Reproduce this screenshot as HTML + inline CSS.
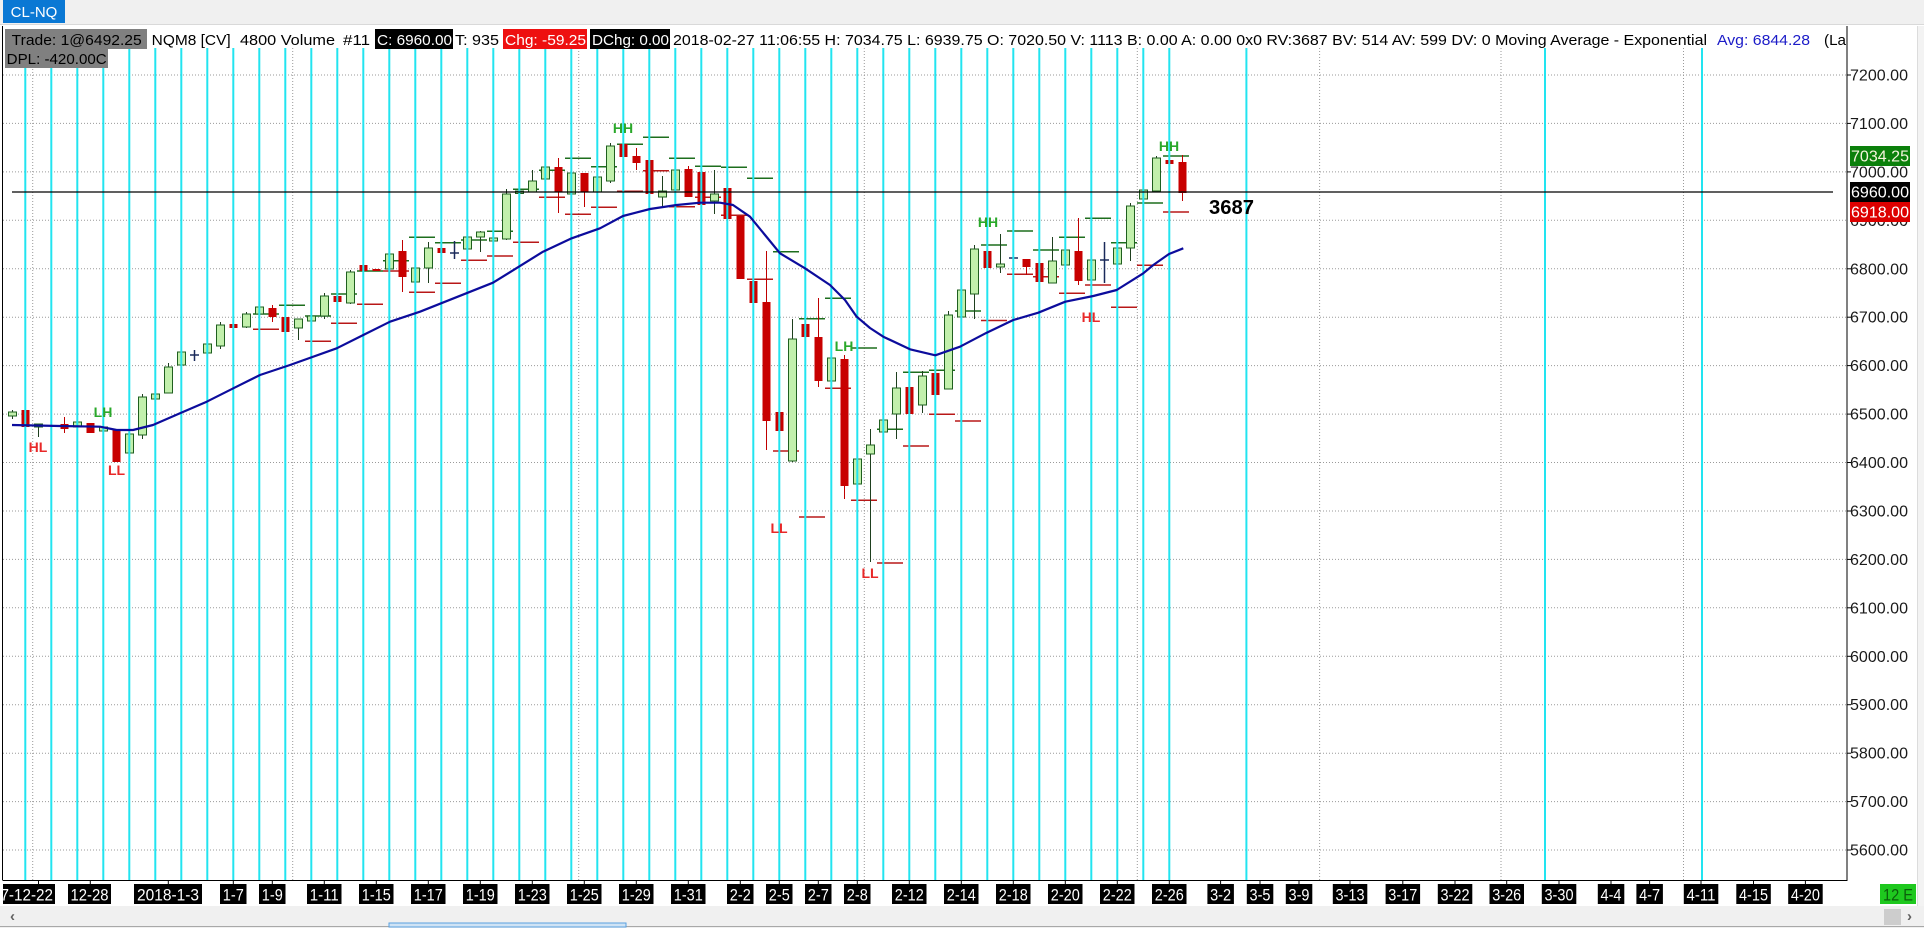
<!DOCTYPE html>
<html><head><meta charset="utf-8">
<style>
html,body{margin:0;padding:0;width:1924px;height:928px;overflow:hidden;background:#fff;}
svg{display:block;font-family:"Liberation Sans",Arial,sans-serif;}
</style></head><body>
<svg width="1924" height="928" viewBox="0 0 1924 928" xmlns="http://www.w3.org/2000/svg">
<defs>
<clipPath id="plotclip"><rect x="3" y="26" width="1844" height="900"/></clipPath>
<clipPath id="hdrclip"><rect x="0" y="26" width="1846" height="40"/></clipPath>
</defs>
<rect x="0" y="0" width="1924" height="928" fill="#fff"/>
<!-- top bar -->
<rect x="0" y="0" width="1924" height="24" fill="#f0f0f0"/>
<line x1="0" y1="24.5" x2="1924" y2="24.5" stroke="#d9d9d9"/>
<rect x="3" y="0" width="62" height="23" fill="#0a78d4"/>
<text x="34" y="17" fill="#fff" font-size="15" text-anchor="middle">CL-NQ</text>

<!-- horizontal grid -->
<g stroke="#9a9a9a" stroke-width="1" stroke-dasharray="1,2">
<line x1="3" y1="75" x2="1847" y2="75"/>
<line x1="3" y1="123.4" x2="1847" y2="123.4"/>
<line x1="3" y1="171.9" x2="1847" y2="171.9"/>
<line x1="3" y1="220.3" x2="1847" y2="220.3"/>
<line x1="3" y1="268.8" x2="1847" y2="268.8"/>
<line x1="3" y1="317.2" x2="1847" y2="317.2"/>
<line x1="3" y1="365.6" x2="1847" y2="365.6"/>
<line x1="3" y1="414.1" x2="1847" y2="414.1"/>
<line x1="3" y1="462.5" x2="1847" y2="462.5"/>
<line x1="3" y1="511" x2="1847" y2="511"/>
<line x1="3" y1="559.4" x2="1847" y2="559.4"/>
<line x1="3" y1="607.8" x2="1847" y2="607.8"/>
<line x1="3" y1="656.3" x2="1847" y2="656.3"/>
<line x1="3" y1="704.7" x2="1847" y2="704.7"/>
<line x1="3" y1="753.2" x2="1847" y2="753.2"/>
<line x1="3" y1="801.6" x2="1847" y2="801.6"/>
<line x1="3" y1="850" x2="1847" y2="850"/>
<line x1="32.7" y1="48" x2="32.7" y2="880"/>
<line x1="292.7" y1="48" x2="292.7" y2="880"/>
<line x1="578.7" y1="48" x2="578.7" y2="880"/>
<line x1="864.3" y1="48" x2="864.3" y2="880"/>
<line x1="1137.3" y1="48" x2="1137.3" y2="880"/>
<line x1="1319.6" y1="48" x2="1319.6" y2="880"/>
<line x1="1501" y1="48" x2="1501" y2="880"/>
<line x1="1683.5" y1="48" x2="1683.5" y2="880"/>
</g>

<!-- level markers -->
<g stroke="#1d6e1d" stroke-width="1.5">
<line x1="279" y1="305.3" x2="305" y2="305.3"/><line x1="253" y1="314" x2="279" y2="314"/>
<line x1="305" y1="316" x2="331" y2="316"/><line x1="331" y1="294" x2="357" y2="294"/>
<line x1="357" y1="271" x2="383" y2="271"/><line x1="383" y1="260.7" x2="409" y2="260.7"/>
<line x1="409" y1="237.3" x2="435" y2="237.3"/><line x1="435" y1="242.7" x2="461" y2="242.7"/>
<line x1="461" y1="240" x2="487" y2="240"/><line x1="487" y1="231.3" x2="513" y2="231.3"/>
<line x1="513" y1="189.3" x2="539" y2="189.3"/><line x1="539" y1="170.3" x2="565" y2="170.3"/>
<line x1="565" y1="158.3" x2="591" y2="158.3"/><line x1="591" y1="166.7" x2="617" y2="166.7"/>
<line x1="617" y1="144.3" x2="643" y2="144.3"/><line x1="643" y1="137.3" x2="669" y2="137.3"/>
<line x1="669" y1="158.3" x2="695" y2="158.3"/><line x1="695" y1="166.3" x2="721" y2="166.3"/>
<line x1="721" y1="167.3" x2="747" y2="167.3"/><line x1="747" y1="178.3" x2="773" y2="178.3"/>
<line x1="773" y1="251.7" x2="799" y2="251.7"/><line x1="799" y1="318.7" x2="825" y2="318.7"/>
<line x1="825" y1="298.3" x2="851" y2="298.3"/><line x1="851" y1="348" x2="877" y2="348"/>
<line x1="877" y1="429.3" x2="903" y2="429.3"/><line x1="903" y1="372.3" x2="929" y2="372.3"/>
<line x1="929" y1="370.3" x2="955" y2="370.3"/><line x1="955" y1="311" x2="981" y2="311"/>
<line x1="981" y1="245" x2="1007" y2="245"/><line x1="1007" y1="231" x2="1033" y2="231"/>
<line x1="1033" y1="250" x2="1059" y2="250"/><line x1="1059" y1="237.3" x2="1085" y2="237.3"/>
<line x1="1085" y1="218.3" x2="1111" y2="218.3"/><line x1="1111" y1="242.7" x2="1137" y2="242.7"/>
<line x1="1137" y1="203" x2="1163" y2="203"/><line x1="1163" y1="156" x2="1189" y2="156"/>
</g>
<g stroke="#b81818" stroke-width="1.5">
<line x1="253" y1="329.3" x2="279" y2="329.3"/><line x1="305" y1="341.3" x2="331" y2="341.3"/>
<line x1="331" y1="323.3" x2="357" y2="323.3"/><line x1="357" y1="304.3" x2="383" y2="304.3"/>
<line x1="383" y1="271" x2="409" y2="271"/><line x1="409" y1="292.3" x2="435" y2="292.3"/>
<line x1="435" y1="283.3" x2="461" y2="283.3"/><line x1="461" y1="260.3" x2="487" y2="260.3"/>
<line x1="487" y1="256" x2="513" y2="256"/><line x1="513" y1="242.3" x2="539" y2="242.3"/>
<line x1="539" y1="197.3" x2="565" y2="197.3"/><line x1="565" y1="214.3" x2="591" y2="214.3"/>
<line x1="591" y1="207.3" x2="617" y2="207.3"/><line x1="617" y1="191.3" x2="643" y2="191.3"/>
<line x1="643" y1="170.7" x2="669" y2="170.7"/><line x1="669" y1="206.7" x2="695" y2="206.7"/>
<line x1="695" y1="197.3" x2="721" y2="197.3"/><line x1="721" y1="215.3" x2="747" y2="215.3"/>
<line x1="747" y1="279.3" x2="773" y2="279.3"/><line x1="773" y1="451" x2="799" y2="451"/>
<line x1="799" y1="517" x2="825" y2="517"/><line x1="825" y1="388.3" x2="851" y2="388.3"/>
<line x1="851" y1="500.3" x2="877" y2="500.3"/><line x1="877" y1="563" x2="903" y2="563"/>
<line x1="903" y1="446" x2="929" y2="446"/><line x1="929" y1="414.3" x2="955" y2="414.3"/>
<line x1="955" y1="421" x2="981" y2="421"/><line x1="981" y1="320.5" x2="1007" y2="320.5"/>
<line x1="1007" y1="274.3" x2="1033" y2="274.3"/><line x1="1033" y1="276.7" x2="1059" y2="276.7"/>
<line x1="1059" y1="293.3" x2="1085" y2="293.3"/><line x1="1085" y1="285" x2="1111" y2="285"/>
<line x1="1111" y1="307.3" x2="1137" y2="307.3"/><line x1="1137" y1="265.3" x2="1163" y2="265.3"/>
<line x1="1163" y1="212" x2="1189" y2="212"/>
</g>

<!-- wicks green -->
<g stroke="#1e3f1e" stroke-width="1">
<line x1="12.5" y1="410" x2="12.5" y2="419"/><line x1="38.5" y1="424" x2="38.5" y2="437"/>
<line x1="77.5" y1="420" x2="77.5" y2="428"/><line x1="103.5" y1="425" x2="103.5" y2="433"/>
<line x1="129.5" y1="432" x2="129.5" y2="453"/><line x1="142.5" y1="394" x2="142.5" y2="439"/>
<line x1="155.5" y1="392" x2="155.5" y2="400"/><line x1="168.5" y1="363" x2="168.5" y2="393"/>
<line x1="181.5" y1="350" x2="181.5" y2="366"/><line x1="207.5" y1="342" x2="207.5" y2="354"/>
<line x1="220.5" y1="322" x2="220.5" y2="349"/><line x1="246.5" y1="312" x2="246.5" y2="328"/>
<line x1="259.5" y1="305" x2="259.5" y2="315"/><line x1="298.5" y1="319" x2="298.5" y2="340"/>
<line x1="311.5" y1="314" x2="311.5" y2="322"/><line x1="324.5" y1="293" x2="324.5" y2="319"/>
<line x1="350.5" y1="270" x2="350.5" y2="304"/><line x1="389.5" y1="252" x2="389.5" y2="270"/>
<line x1="415.5" y1="266" x2="415.5" y2="283"/><line x1="428.5" y1="242" x2="428.5" y2="283"/>
<line x1="467.5" y1="235" x2="467.5" y2="250"/><line x1="480.5" y1="231" x2="480.5" y2="252"/>
<line x1="493.5" y1="237" x2="493.5" y2="242"/><line x1="506.5" y1="189" x2="506.5" y2="240"/>
<line x1="519.5" y1="190" x2="519.5" y2="194"/><line x1="532.5" y1="170" x2="532.5" y2="192"/>
<line x1="545.5" y1="165" x2="545.5" y2="180"/><line x1="571.5" y1="172" x2="571.5" y2="195"/>
<line x1="597.5" y1="176" x2="597.5" y2="193"/><line x1="610.5" y1="143" x2="610.5" y2="183"/>
<line x1="662.5" y1="176" x2="662.5" y2="207"/><line x1="675.5" y1="169" x2="675.5" y2="191"/>
<line x1="714.5" y1="170" x2="714.5" y2="214"/><line x1="792.5" y1="319" x2="792.5" y2="462"/>
<line x1="831.5" y1="357" x2="831.5" y2="382"/><line x1="857.5" y1="458" x2="857.5" y2="485"/>
<line x1="870.5" y1="429" x2="870.5" y2="562"/><line x1="883.5" y1="419" x2="883.5" y2="433"/>
<line x1="896.5" y1="372" x2="896.5" y2="439"/><line x1="922.5" y1="371" x2="922.5" y2="413"/>
<line x1="948.5" y1="311" x2="948.5" y2="389"/><line x1="961.5" y1="289" x2="961.5" y2="318"/>
<line x1="974.5" y1="245" x2="974.5" y2="319"/><line x1="1000.5" y1="234" x2="1000.5" y2="273"/>
<line x1="1052.5" y1="237" x2="1052.5" y2="283"/><line x1="1065.5" y1="249" x2="1065.5" y2="266"/>
<line x1="1091.5" y1="259" x2="1091.5" y2="281"/><line x1="1117.5" y1="247" x2="1117.5" y2="265"/>
<line x1="1130.5" y1="203" x2="1130.5" y2="261"/><line x1="1143.5" y1="189" x2="1143.5" y2="200"/>
<line x1="1156.5" y1="156" x2="1156.5" y2="191"/>
</g>
<!-- wicks red -->
<g stroke="#c00000" stroke-width="1">
<line x1="64.5" y1="417" x2="64.5" y2="433"/><line x1="272.5" y1="305" x2="272.5" y2="322"/>
<line x1="285.5" y1="317" x2="285.5" y2="336"/><line x1="402.5" y1="240" x2="402.5" y2="292"/>
<line x1="558.5" y1="158" x2="558.5" y2="213"/><line x1="584.5" y1="173" x2="584.5" y2="207"/>
<line x1="636.5" y1="148" x2="636.5" y2="170"/><line x1="688.5" y1="166" x2="688.5" y2="197"/>
<line x1="766.5" y1="251" x2="766.5" y2="450"/><line x1="818.5" y1="298" x2="818.5" y2="387"/>
<line x1="844.5" y1="355" x2="844.5" y2="499"/><line x1="1026.5" y1="259" x2="1026.5" y2="275"/>
<line x1="1078.5" y1="218" x2="1078.5" y2="285"/><line x1="1182.5" y1="155" x2="1182.5" y2="201"/>
</g>
<!-- dojis -->
<g stroke="#1a2a5a" stroke-width="1.5">
<line x1="194.5" y1="350" x2="194.5" y2="361"/><line x1="190" y1="355" x2="199" y2="355"/>
<line x1="454.5" y1="241" x2="454.5" y2="259"/><line x1="450" y1="253" x2="459" y2="253"/>
<line x1="1009" y1="258" x2="1018" y2="258"/>
<line x1="1104.5" y1="242" x2="1104.5" y2="283"/><line x1="1100" y1="260" x2="1109" y2="260"/>
</g>
<!-- green bodies -->
<g fill="#c2f0ac" stroke="#1f5f1f" stroke-width="1">
<rect x="8.5" y="412" width="8" height="4"/><rect x="34.5" y="424" width="8" height="3"/>
<rect x="73.5" y="422" width="8" height="5"/><rect x="99.5" y="427" width="8" height="4"/>
<rect x="125.5" y="434" width="8" height="19"/><rect x="138.5" y="397" width="8" height="38"/>
<rect x="151.5" y="394" width="8" height="5"/><rect x="164.5" y="367" width="8" height="26"/>
<rect x="177.5" y="352" width="8" height="13"/><rect x="203.5" y="344" width="8" height="9"/>
<rect x="216.5" y="325" width="8" height="21"/><rect x="242.5" y="314" width="8" height="13"/>
<rect x="255.5" y="307" width="8" height="7"/><rect x="294.5" y="319" width="8" height="9"/>
<rect x="307.5" y="316" width="8" height="5"/><rect x="320.5" y="296" width="8" height="20"/>
<rect x="346.5" y="272" width="8" height="31"/><rect x="385.5" y="254" width="8" height="15"/>
<rect x="411.5" y="268" width="8" height="14"/><rect x="424.5" y="248" width="8" height="20"/>
<rect x="463.5" y="237" width="8" height="12"/><rect x="476.5" y="232" width="8" height="5"/>
<rect x="489.5" y="238" width="8" height="3"/><rect x="502.5" y="194" width="8" height="45"/>
<rect x="515.5" y="191" width="8" height="2.5"/><rect x="528.5" y="181" width="8" height="11"/>
<rect x="541.5" y="167" width="8" height="12"/><rect x="567.5" y="173" width="8" height="21"/>
<rect x="593.5" y="177" width="8" height="15"/><rect x="606.5" y="146" width="8" height="35"/>
<rect x="658.5" y="191" width="8" height="6"/><rect x="671.5" y="170" width="8" height="20"/>
<rect x="710.5" y="194" width="8" height="7"/><rect x="788.5" y="339" width="8" height="122"/>
<rect x="827.5" y="358" width="8" height="23"/><rect x="853.5" y="459" width="8" height="25"/>
<rect x="866.5" y="445" width="8" height="9"/><rect x="879.5" y="420" width="8" height="12"/>
<rect x="892.5" y="388" width="8" height="26"/><rect x="918.5" y="376" width="8" height="29"/>
<rect x="944.5" y="315" width="8" height="74"/><rect x="957.5" y="290" width="8" height="27"/>
<rect x="970.5" y="249" width="8" height="45"/><rect x="996.5" y="264" width="8" height="3"/>
<rect x="1048.5" y="261" width="8" height="22"/><rect x="1061.5" y="250" width="8" height="15"/>
<rect x="1087.5" y="260" width="8" height="20"/><rect x="1113.5" y="248" width="8" height="16"/>
<rect x="1126.5" y="206" width="8" height="42"/><rect x="1139.5" y="190" width="8" height="9"/>
<rect x="1152.5" y="158" width="8" height="33"/>
</g>
<!-- red bodies -->
<g fill="#c80000">
<rect x="21.5" y="410" width="8" height="17"/><rect x="60.5" y="424" width="8" height="5"/>
<rect x="86.5" y="423" width="8" height="10"/><rect x="112.5" y="429" width="8" height="33"/>
<rect x="229.5" y="324" width="8" height="4"/><rect x="268.5" y="308" width="8" height="9"/>
<rect x="281.5" y="317" width="8" height="15"/><rect x="333.5" y="296" width="8" height="6"/>
<rect x="359.5" y="265" width="8" height="6"/><rect x="372.5" y="269" width="8" height="2"/>
<rect x="398.5" y="251" width="8" height="26"/><rect x="437.5" y="248" width="8" height="5"/>
<rect x="554.5" y="167" width="8" height="25"/><rect x="580.5" y="173" width="8" height="19"/>
<rect x="619.5" y="144" width="8" height="13"/><rect x="632.5" y="156" width="8" height="7"/>
<rect x="645.5" y="160" width="8" height="34"/><rect x="684.5" y="169" width="8" height="28"/>
<rect x="697.5" y="172" width="8" height="33"/><rect x="723.5" y="188" width="8" height="31"/>
<rect x="736.5" y="216" width="8" height="63"/><rect x="749.5" y="281" width="8" height="22"/>
<rect x="762.5" y="302" width="8" height="119"/><rect x="775.5" y="412" width="8" height="19"/>
<rect x="801.5" y="324" width="8" height="13"/><rect x="814.5" y="337" width="8" height="44"/>
<rect x="840.5" y="359" width="8" height="127"/><rect x="905.5" y="387" width="8" height="27"/>
<rect x="931.5" y="373" width="8" height="22"/><rect x="983.5" y="251" width="8" height="17"/>
<rect x="1022.5" y="259" width="8" height="8"/><rect x="1035.5" y="263" width="8" height="19"/>
<rect x="1074.5" y="251" width="8" height="30"/><rect x="1165.5" y="160" width="8" height="4"/>
<rect x="1178.5" y="162" width="8" height="31"/>
</g>

<!-- cyan lines -->
<g stroke="#22e4f0" stroke-width="2">
<line x1="25.3" y1="48" x2="25.3" y2="880"/><line x1="51.3" y1="48" x2="51.3" y2="880"/>
<line x1="77.3" y1="48" x2="77.3" y2="880"/><line x1="103.3" y1="48" x2="103.3" y2="880"/>
<line x1="129.3" y1="48" x2="129.3" y2="880"/><line x1="155.3" y1="48" x2="155.3" y2="880"/>
<line x1="181.3" y1="48" x2="181.3" y2="880"/><line x1="207.3" y1="48" x2="207.3" y2="880"/>
<line x1="233.3" y1="48" x2="233.3" y2="880"/><line x1="259.3" y1="48" x2="259.3" y2="880"/>
<line x1="285.3" y1="48" x2="285.3" y2="880"/><line x1="311.3" y1="48" x2="311.3" y2="880"/>
<line x1="337.3" y1="48" x2="337.3" y2="880"/><line x1="363.3" y1="48" x2="363.3" y2="880"/>
<line x1="389.3" y1="48" x2="389.3" y2="880"/><line x1="415.3" y1="48" x2="415.3" y2="880"/>
<line x1="441.3" y1="48" x2="441.3" y2="880"/><line x1="467.3" y1="48" x2="467.3" y2="880"/>
<line x1="493.3" y1="48" x2="493.3" y2="880"/><line x1="519.3" y1="48" x2="519.3" y2="880"/>
<line x1="545.3" y1="48" x2="545.3" y2="880"/><line x1="571.3" y1="48" x2="571.3" y2="880"/>
<line x1="597.3" y1="48" x2="597.3" y2="880"/><line x1="623.3" y1="48" x2="623.3" y2="880"/>
<line x1="649.3" y1="48" x2="649.3" y2="880"/><line x1="675.3" y1="48" x2="675.3" y2="880"/>
<line x1="701.3" y1="48" x2="701.3" y2="880"/><line x1="727.3" y1="48" x2="727.3" y2="880"/>
<line x1="753.3" y1="48" x2="753.3" y2="880"/><line x1="779.3" y1="48" x2="779.3" y2="880"/>
<line x1="805.3" y1="48" x2="805.3" y2="880"/><line x1="831.3" y1="48" x2="831.3" y2="880"/>
<line x1="857.3" y1="48" x2="857.3" y2="880"/><line x1="883.3" y1="48" x2="883.3" y2="880"/>
<line x1="909.3" y1="48" x2="909.3" y2="880"/><line x1="935.3" y1="48" x2="935.3" y2="880"/>
<line x1="961.3" y1="48" x2="961.3" y2="880"/><line x1="987.3" y1="48" x2="987.3" y2="880"/>
<line x1="1013.3" y1="48" x2="1013.3" y2="880"/><line x1="1039.3" y1="48" x2="1039.3" y2="880"/>
<line x1="1065.3" y1="48" x2="1065.3" y2="880"/><line x1="1091.3" y1="48" x2="1091.3" y2="880"/>
<line x1="1117.3" y1="48" x2="1117.3" y2="880"/><line x1="1143.3" y1="48" x2="1143.3" y2="880"/>
<line x1="1169.3" y1="48" x2="1169.3" y2="880"/><line x1="1246.4" y1="48" x2="1246.4" y2="880"/>
<line x1="1545" y1="48" x2="1545" y2="880"/><line x1="1702" y1="48" x2="1702" y2="880"/>
</g>

<!-- last price line -->
<line x1="12" y1="192" x2="1833" y2="192" stroke="#000" stroke-width="1.3"/>

<!-- moving average -->
<polyline fill="none" stroke="#0c0c9c" stroke-width="2.2" stroke-linejoin="round" points="12,425 60,426 100,426.7 116.7,430 133,430 153,425 180,413.3 206.7,401.7 233.3,388.3 260,375 290,365 336.7,348.3 363.3,335 390,321.7 420,311.7 493,282.7 543,251.7 571.7,238.3 600,228.3 623,216 650,209 676.7,205 700,202.7 720,202.7 733,205 750,216.7 765,235 780,253.3 805,268.3 830,285 845,300 856.7,316.7 870,328 883.3,336.7 910,349.3 935.3,355.3 960,346.7 986.7,332.7 1013.3,320 1038.3,312.7 1065.3,301.7 1093.3,296 1116.7,290 1143.3,273.3 1153.3,265 1169,254 1183.3,248.3"/>

<!-- swing labels -->
<g font-size="14" font-weight="bold" text-anchor="middle">
<text x="38" y="452" fill="#e82828">HL</text>
<text x="103" y="417" fill="#2aa82a">LH</text>
<text x="116.5" y="475" fill="#e82828">LL</text>
<text x="623" y="133" fill="#2aa82a">HH</text>
<text x="779" y="533" fill="#e82828">LL</text>
<text x="844" y="351" fill="#2aa82a">LH</text>
<text x="870" y="578" fill="#e82828">LL</text>
<text x="988" y="227" fill="#2aa82a">HH</text>
<text x="1091" y="322" fill="#e82828">HL</text>
<text x="1169" y="151" fill="#2aa82a">HH</text>
</g>
<text x="1209" y="214" font-size="20" font-weight="bold" fill="#000" textLength="45" lengthAdjust="spacingAndGlyphs">3687</text>

<!-- header info row -->
<rect x="3" y="26" width="1843" height="22" fill="#fff"/>
<rect x="5" y="29" width="142" height="20" fill="#808080"/>
<rect x="5" y="49" width="103" height="19" fill="#808080"/>
<rect x="375" y="29" width="78" height="20" fill="#000"/>
<rect x="503" y="29" width="84" height="20" fill="#ee1010"/>
<rect x="590" y="29" width="80" height="20" fill="#000"/>
<g font-size="15" clip-path="url(#hdrclip)">
<text x="11.7" y="45" fill="#000" textLength="130" lengthAdjust="spacingAndGlyphs">Trade: 1@6492.25</text>
<text x="151.7" y="45" fill="#000" textLength="79" lengthAdjust="spacingAndGlyphs">NQM8 [CV]</text>
<text x="240" y="45" fill="#000" textLength="95" lengthAdjust="spacingAndGlyphs">4800 Volume</text>
<text x="343" y="45" fill="#000" textLength="27" lengthAdjust="spacingAndGlyphs">#11</text>
<text x="377" y="45" fill="#fff" textLength="75" lengthAdjust="spacingAndGlyphs">C: 6960.00</text>
<text x="455" y="45" fill="#000" textLength="44" lengthAdjust="spacingAndGlyphs">T: 935</text>
<text x="505" y="45" fill="#fff" textLength="81" lengthAdjust="spacingAndGlyphs">Chg: -59.25</text>
<text x="592" y="45" fill="#fff" textLength="77" lengthAdjust="spacingAndGlyphs">DChg: 0.00</text>
<text x="673" y="45" fill="#000" textLength="1034" lengthAdjust="spacingAndGlyphs">2018-02-27 11:06:55 H: 7034.75 L: 6939.75 O: 7020.50 V: 1113 B: 0.00 A: 0.00 0x0 RV:3687 BV: 514 AV: 599 DV: 0 Moving Average - Exponential</text>
<text x="1717" y="45" fill="#1c1cc8" textLength="93" lengthAdjust="spacingAndGlyphs">Avg: 6844.28</text>
<text x="1824" y="45" fill="#000" textLength="22" lengthAdjust="spacingAndGlyphs">(La</text>
<text x="6.7" y="64" fill="#000" textLength="100" lengthAdjust="spacingAndGlyphs">DPL: -420.00C</text>
</g>

<!-- borders -->
<line x1="2.5" y1="26" x2="2.5" y2="880" stroke="#000"/>
<line x1="2.5" y1="880.5" x2="1847" y2="880.5" stroke="#000"/>
<line x1="1847" y1="26" x2="1847" y2="881" stroke="#000"/>

<!-- right strip -->
<rect x="1918" y="26" width="6" height="880" fill="#f3f3f3"/>
<line x1="1917.5" y1="26" x2="1917.5" y2="906" stroke="#dcdcdc"/>

<!-- y axis -->
<g stroke="#000"><line x1="1847" y1="75" x2="1851" y2="75"/><line x1="1847" y1="123.4" x2="1851" y2="123.4"/><line x1="1847" y1="171.9" x2="1851" y2="171.9"/><line x1="1847" y1="268.8" x2="1851" y2="268.8"/><line x1="1847" y1="317.2" x2="1851" y2="317.2"/><line x1="1847" y1="365.6" x2="1851" y2="365.6"/><line x1="1847" y1="414.1" x2="1851" y2="414.1"/><line x1="1847" y1="462.5" x2="1851" y2="462.5"/><line x1="1847" y1="511" x2="1851" y2="511"/><line x1="1847" y1="559.4" x2="1851" y2="559.4"/><line x1="1847" y1="607.8" x2="1851" y2="607.8"/><line x1="1847" y1="656.3" x2="1851" y2="656.3"/><line x1="1847" y1="704.7" x2="1851" y2="704.7"/><line x1="1847" y1="753.2" x2="1851" y2="753.2"/><line x1="1847" y1="801.6" x2="1851" y2="801.6"/><line x1="1847" y1="850" x2="1851" y2="850"/></g>
<g font-size="15.5" fill="#1a1a1a">
<text x="1850" y="80.5" textLength="58" lengthAdjust="spacingAndGlyphs">7200.00</text>
<text x="1850" y="129" textLength="58" lengthAdjust="spacingAndGlyphs">7100.00</text>
<text x="1850" y="177.4" textLength="58" lengthAdjust="spacingAndGlyphs">7000.00</text>
<text x="1850" y="225.8" textLength="58" lengthAdjust="spacingAndGlyphs">6900.00</text>
<text x="1850" y="274.3" textLength="58" lengthAdjust="spacingAndGlyphs">6800.00</text>
<text x="1850" y="322.7" textLength="58" lengthAdjust="spacingAndGlyphs">6700.00</text>
<text x="1850" y="371.1" textLength="58" lengthAdjust="spacingAndGlyphs">6600.00</text>
<text x="1850" y="419.6" textLength="58" lengthAdjust="spacingAndGlyphs">6500.00</text>
<text x="1850" y="468" textLength="58" lengthAdjust="spacingAndGlyphs">6400.00</text>
<text x="1850" y="516.5" textLength="58" lengthAdjust="spacingAndGlyphs">6300.00</text>
<text x="1850" y="564.9" textLength="58" lengthAdjust="spacingAndGlyphs">6200.00</text>
<text x="1850" y="613.3" textLength="58" lengthAdjust="spacingAndGlyphs">6100.00</text>
<text x="1850" y="661.8" textLength="58" lengthAdjust="spacingAndGlyphs">6000.00</text>
<text x="1850" y="710.2" textLength="58" lengthAdjust="spacingAndGlyphs">5900.00</text>
<text x="1850" y="758.7" textLength="58" lengthAdjust="spacingAndGlyphs">5800.00</text>
<text x="1850" y="807.1" textLength="58" lengthAdjust="spacingAndGlyphs">5700.00</text>
<text x="1850" y="855.5" textLength="58" lengthAdjust="spacingAndGlyphs">5600.00</text>
</g>
<rect x="1850" y="146" width="60" height="20" fill="#0b800b"/>
<rect x="1850" y="182" width="60" height="20" fill="#000"/>
<rect x="1850" y="202" width="60" height="20" fill="#dd0000"/>
<g font-size="15.5">
<text x="1851" y="161.5" fill="#f4f4dc" textLength="58" lengthAdjust="spacingAndGlyphs">7034.25</text>
<text x="1851" y="197.5" fill="#fff" textLength="58" lengthAdjust="spacingAndGlyphs">6960.00</text>
<text x="1851" y="217.5" fill="#fff" textLength="58" lengthAdjust="spacingAndGlyphs">6918.00</text>
</g>

<!-- x axis labels -->
<g stroke="#000">
<line x1="38.5" y1="880" x2="38.5" y2="884"/><line x1="90.3" y1="880" x2="90.3" y2="884"/><line x1="168.3" y1="880" x2="168.3" y2="884"/><line x1="233.3" y1="880" x2="233.3" y2="884"/><line x1="272.3" y1="880" x2="272.3" y2="884"/><line x1="324.3" y1="880" x2="324.3" y2="884"/><line x1="376.3" y1="880" x2="376.3" y2="884"/><line x1="428.3" y1="880" x2="428.3" y2="884"/><line x1="480.3" y1="880" x2="480.3" y2="884"/><line x1="532.3" y1="880" x2="532.3" y2="884"/><line x1="584.3" y1="880" x2="584.3" y2="884"/><line x1="636.3" y1="880" x2="636.3" y2="884"/><line x1="688.3" y1="880" x2="688.3" y2="884"/><line x1="740.3" y1="880" x2="740.3" y2="884"/><line x1="779.3" y1="880" x2="779.3" y2="884"/><line x1="818.3" y1="880" x2="818.3" y2="884"/><line x1="857.3" y1="880" x2="857.3" y2="884"/><line x1="909.3" y1="880" x2="909.3" y2="884"/><line x1="961.3" y1="880" x2="961.3" y2="884"/><line x1="1013.3" y1="880" x2="1013.3" y2="884"/><line x1="1065.3" y1="880" x2="1065.3" y2="884"/><line x1="1117.3" y1="880" x2="1117.3" y2="884"/><line x1="1169.3" y1="880" x2="1169.3" y2="884"/><line x1="1220.6" y1="880" x2="1220.6" y2="884"/><line x1="1260" y1="880" x2="1260" y2="884"/><line x1="1299" y1="880" x2="1299" y2="884"/><line x1="1350" y1="880" x2="1350" y2="884"/><line x1="1402.8" y1="880" x2="1402.8" y2="884"/><line x1="1455" y1="880" x2="1455" y2="884"/><line x1="1506.7" y1="880" x2="1506.7" y2="884"/><line x1="1559" y1="880" x2="1559" y2="884"/><line x1="1611" y1="880" x2="1611" y2="884"/><line x1="1649.6" y1="880" x2="1649.6" y2="884"/><line x1="1701" y1="880" x2="1701" y2="884"/><line x1="1753.5" y1="880" x2="1753.5" y2="884"/><line x1="1805.4" y1="880" x2="1805.4" y2="884"/>
</g>
<g clip-path="url(#plotclip)">
<rect x="-30" y="884" width="85" height="20" fill="#000"/>
<text x="53" y="900.7" font-size="17" fill="#fff" text-anchor="end" textLength="78" lengthAdjust="spacingAndGlyphs">2017-12-22</text>
</g>
<g fill="#000">
<rect x="68" y="884" width="43" height="20"/><rect x="134" y="884" width="68" height="20"/>
<rect x="220" y="884" width="26.5" height="20"/><rect x="259" y="884" width="26.5" height="20"/>
<rect x="307" y="884" width="34.5" height="20"/><rect x="359" y="884" width="34.5" height="20"/>
<rect x="411" y="884" width="34.5" height="20"/><rect x="463" y="884" width="34.5" height="20"/>
<rect x="515" y="884" width="34.5" height="20"/><rect x="567" y="884" width="34.5" height="20"/>
<rect x="619" y="884" width="34.5" height="20"/><rect x="671" y="884" width="34.5" height="20"/>
<rect x="727" y="884" width="26.5" height="20"/><rect x="766" y="884" width="26.5" height="20"/>
<rect x="805" y="884" width="26.5" height="20"/><rect x="844" y="884" width="26.5" height="20"/>
<rect x="892" y="884" width="34.5" height="20"/><rect x="944" y="884" width="34.5" height="20"/>
<rect x="996" y="884" width="34.5" height="20"/><rect x="1048" y="884" width="34.5" height="20"/>
<rect x="1100" y="884" width="34.5" height="20"/><rect x="1152" y="884" width="34.5" height="20"/>
<rect x="1207.4" y="884" width="26.5" height="20"/><rect x="1246.8" y="884" width="26.5" height="20"/>
<rect x="1285.8" y="884" width="26.5" height="20"/><rect x="1332.8" y="884" width="34.5" height="20"/>
<rect x="1385.6" y="884" width="34.5" height="20"/><rect x="1437.8" y="884" width="34.5" height="20"/>
<rect x="1489.5" y="884" width="34.5" height="20"/><rect x="1541.8" y="884" width="34.5" height="20"/>
<rect x="1597.8" y="884" width="26.5" height="20"/><rect x="1636.4" y="884" width="26.5" height="20"/>
<rect x="1683.8" y="884" width="34.5" height="20"/><rect x="1736.3" y="884" width="34.5" height="20"/>
<rect x="1788.2" y="884" width="34.5" height="20"/>
</g>
<g font-size="17" fill="#fff" text-anchor="middle" lengthAdjust="spacingAndGlyphs">
<text x="89.5" y="900.7" textLength="38" lengthAdjust="spacingAndGlyphs">12-28</text>
<text x="168" y="900.7" textLength="62" lengthAdjust="spacingAndGlyphs">2018-1-3</text>
<text x="233.3" y="900.7" textLength="21" lengthAdjust="spacingAndGlyphs">1-7</text>
<text x="272.3" y="900.7" textLength="21" lengthAdjust="spacingAndGlyphs">1-9</text>
<text x="324.3" y="900.7" textLength="29" lengthAdjust="spacingAndGlyphs">1-11</text>
<text x="376.3" y="900.7" textLength="29" lengthAdjust="spacingAndGlyphs">1-15</text>
<text x="428.3" y="900.7" textLength="29" lengthAdjust="spacingAndGlyphs">1-17</text>
<text x="480.3" y="900.7" textLength="29" lengthAdjust="spacingAndGlyphs">1-19</text>
<text x="532.3" y="900.7" textLength="29" lengthAdjust="spacingAndGlyphs">1-23</text>
<text x="584.3" y="900.7" textLength="29" lengthAdjust="spacingAndGlyphs">1-25</text>
<text x="636.3" y="900.7" textLength="29" lengthAdjust="spacingAndGlyphs">1-29</text>
<text x="688.3" y="900.7" textLength="29" lengthAdjust="spacingAndGlyphs">1-31</text>
<text x="740.3" y="900.7" textLength="21" lengthAdjust="spacingAndGlyphs">2-2</text>
<text x="779.3" y="900.7" textLength="21" lengthAdjust="spacingAndGlyphs">2-5</text>
<text x="818.3" y="900.7" textLength="21" lengthAdjust="spacingAndGlyphs">2-7</text>
<text x="857.3" y="900.7" textLength="21" lengthAdjust="spacingAndGlyphs">2-8</text>
<text x="909.3" y="900.7" textLength="29" lengthAdjust="spacingAndGlyphs">2-12</text>
<text x="961.3" y="900.7" textLength="29" lengthAdjust="spacingAndGlyphs">2-14</text>
<text x="1013.3" y="900.7" textLength="29" lengthAdjust="spacingAndGlyphs">2-18</text>
<text x="1065.3" y="900.7" textLength="29" lengthAdjust="spacingAndGlyphs">2-20</text>
<text x="1117.3" y="900.7" textLength="29" lengthAdjust="spacingAndGlyphs">2-22</text>
<text x="1169.3" y="900.7" textLength="29" lengthAdjust="spacingAndGlyphs">2-26</text>
<text x="1220.6" y="900.7" textLength="21" lengthAdjust="spacingAndGlyphs">3-2</text>
<text x="1260" y="900.7" textLength="21" lengthAdjust="spacingAndGlyphs">3-5</text>
<text x="1299" y="900.7" textLength="21" lengthAdjust="spacingAndGlyphs">3-9</text>
<text x="1350" y="900.7" textLength="29" lengthAdjust="spacingAndGlyphs">3-13</text>
<text x="1402.8" y="900.7" textLength="29" lengthAdjust="spacingAndGlyphs">3-17</text>
<text x="1455" y="900.7" textLength="29" lengthAdjust="spacingAndGlyphs">3-22</text>
<text x="1506.7" y="900.7" textLength="29" lengthAdjust="spacingAndGlyphs">3-26</text>
<text x="1559" y="900.7" textLength="29" lengthAdjust="spacingAndGlyphs">3-30</text>
<text x="1611" y="900.7" textLength="21" lengthAdjust="spacingAndGlyphs">4-4</text>
<text x="1649.6" y="900.7" textLength="21" lengthAdjust="spacingAndGlyphs">4-7</text>
<text x="1701" y="900.7" textLength="29" lengthAdjust="spacingAndGlyphs">4-11</text>
<text x="1753.5" y="900.7" textLength="29" lengthAdjust="spacingAndGlyphs">4-15</text>
<text x="1805.4" y="900.7" textLength="29" lengthAdjust="spacingAndGlyphs">4-20</text>
</g>
<rect x="1880" y="884" width="36" height="20" fill="#1ec81e"/>
<text x="1898" y="900.5" font-size="17" fill="#0b5e0b" text-anchor="middle" textLength="30" lengthAdjust="spacingAndGlyphs">12 E</text>

<!-- scrollbar -->
<rect x="0" y="906" width="1924" height="22" fill="#f0f0f0"/>
<line x1="0" y1="926.5" x2="1924" y2="926.5" stroke="#a8a8a8"/>
<rect x="389" y="923" width="237" height="4" fill="#cfe3f5" stroke="#5aa0e0" stroke-width="1"/>
<text x="10" y="921" font-size="15" fill="#606060" font-weight="bold">‹</text>
<rect x="1884" y="909" width="17" height="16" fill="#cdcdcd"/>
<text x="1907" y="921" font-size="15" fill="#606060" font-weight="bold">›</text>
</svg>
</body></html>
